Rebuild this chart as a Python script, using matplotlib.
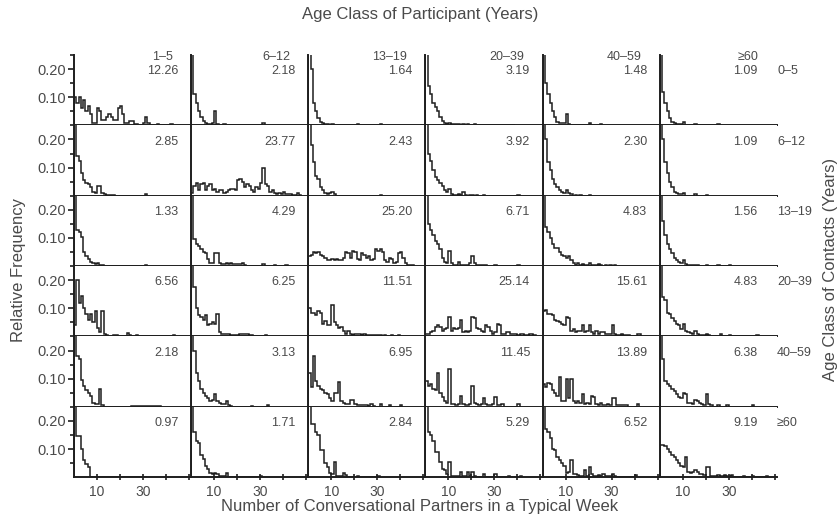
import matplotlib.pyplot as plt
from matplotlib.ticker import FixedLocator

plt.rcParams['font.family'] = ['Liberation Sans', 'DejaVu Sans']

participant_ages = ["1–5", "6–12", "13–19", "20–39", "40–59", "≥60"]
contact_ages = ["0–5", "6–12", "13–19", "20–39", "40–59", "≥60"]

# relative frequency of having 0, 1, 2, ... partners of the contact class
# one list per participant class (columns), one variable per contact class (rows)
freq_contacts_0_5 = [
    [0.10, 0.08, 0.10, 0.06, 0.09, 0.05, 0.07, 0.04, 0.01, 0.01, 0.06, 0.05, 0.02, 0.02, 0.03,
     0.04, 0.03, 0.02, 0.02, 0.06, 0.07, 0.04, 0.01, 0.01, 0.015, 0.015, 0.005, 0.005, 0.0, 0.0,
     0.01, 0.03, 0.01, 0.0, 0.0, 0.0, 0.005, 0.0, 0.0, 0.0, 0.0, 0.0, 0.005],
    [0.6, 0.11, 0.08, 0.05, 0.03, 0.015, 0.01, 0.005, 0.005, 0.01, 0.05, 0.005, 0.0, 0.0, 0.005,
     0.0, 0.0, 0.0, 0.0, 0.0, 0.0, 0.0, 0.0, 0.0, 0.0, 0.0, 0.0, 0.0, 0.0, 0.0, 0.0, 0.008],
    [0.6, 0.2, 0.08, 0.05, 0.025, 0.012, 0.008, 0.005, 0.004, 0.003, 0.004, 0.003, 0.0, 0.003,
     0.0, 0.0, 0.0, 0.0, 0.0, 0.0, 0.0, 0.006, 0.0, 0.0, 0.0, 0.0, 0.0, 0.0, 0.0, 0.0, 0.0, 0.006],
    [0.5, 0.14, 0.11, 0.08, 0.065, 0.05, 0.03, 0.015, 0.008, 0.006, 0.008, 0.004, 0.006, 0.004,
     0.006, 0.003, 0.004, 0.003, 0.005, 0.003, 0.003, 0.004, 0.003, 0.0, 0.003, 0.0, 0.0, 0.0,
     0.0, 0.0, 0.0, 0.0, 0.0, 0.0, 0.0, 0.0, 0.0, 0.0, 0.003],
    [0.5, 0.15, 0.11, 0.08, 0.05, 0.03, 0.012, 0.01, 0.01, 0.01, 0.04, 0.005, 0.0, 0.0, 0.0,
     0.0, 0.0, 0.0, 0.0, 0.0, 0.008, 0.0, 0.0, 0.0, 0.0, 0.005],
    [0.6, 0.12, 0.08, 0.05, 0.025, 0.012, 0.008, 0.005, 0.005, 0.005, 0.012, 0.0, 0.0, 0.0, 0.0,
     0.006, 0.0, 0.0, 0.0, 0.0, 0.0, 0.0, 0.0, 0.0, 0.0, 0.005],
]
freq_contacts_6_12 = [
    [0.45, 0.14, 0.125, 0.08, 0.055, 0.045, 0.04, 0.03, 0.015, 0.01, 0.035, 0.035, 0.01, 0.005,
     0.003, 0.003, 0.003, 0.004, 0.0, 0.0, 0.0, 0.0, 0.0, 0.0, 0.0, 0.0, 0.0, 0.0, 0.0, 0.0,
     0.0, 0.005],
    [0.01, 0.035, 0.045, 0.02, 0.04, 0.045, 0.02, 0.035, 0.04, 0.02, 0.025, 0.015, 0.02, 0.02,
     0.01, 0.015, 0.02, 0.025, 0.025, 0.02, 0.055, 0.06, 0.05, 0.03, 0.04, 0.035, 0.02, 0.015,
     0.03, 0.025, 0.045, 0.1, 0.04, 0.035, 0.015, 0.02, 0.01, 0.005, 0.008, 0.005, 0.015, 0.005,
     0.005, 0.005, 0.003, 0.003, 0.008, 0.003],
    [0.55, 0.18, 0.12, 0.07, 0.06, 0.03, 0.02, 0.01, 0.005, 0.01, 0.012, 0.005, 0.0, 0.0, 0.0,
     0.0, 0.0, 0.0, 0.0, 0.0, 0.0, 0.0, 0.0, 0.0, 0.0, 0.0, 0.0, 0.0, 0.0, 0.0, 0.0, 0.004],
    [0.45, 0.15, 0.125, 0.09, 0.065, 0.055, 0.045, 0.035, 0.02, 0.012, 0.025, 0.005, 0.004,
     0.003, 0.006, 0.003, 0.015, 0.003, 0.0, 0.004, 0.003, 0.0, 0.004, 0.0, 0.0, 0.004, 0.0,
     0.0, 0.0, 0.0, 0.0, 0.0, 0.0, 0.0, 0.0, 0.0, 0.0, 0.0, 0.0, 0.0, 0.004],
    [0.5, 0.2, 0.12, 0.09, 0.06, 0.04, 0.03, 0.02, 0.012, 0.01, 0.02, 0.01, 0.005, 0.0, 0.003,
     0.0, 0.003, 0.0, 0.0, 0.0, 0.003],
    [0.6, 0.2, 0.12, 0.08, 0.05, 0.03, 0.015, 0.01, 0.005, 0.005, 0.008, 0.0, 0.0, 0.0, 0.0,
     0.005, 0.0, 0.0, 0.0, 0.0, 0.004],
]
freq_contacts_13_19 = [
    [0.6, 0.13, 0.12, 0.105, 0.05, 0.035, 0.025, 0.015, 0.01, 0.008, 0.01, 0.005, 0.004, 0.0,
     0.0, 0.0, 0.0, 0.0, 0.0, 0.0, 0.0, 0.0, 0.0, 0.0, 0.0, 0.0, 0.0, 0.0, 0.0, 0.0, 0.0, 0.004],
    [0.45, 0.095, 0.08, 0.07, 0.06, 0.05, 0.045, 0.025, 0.01, 0.01, 0.045, 0.045, 0.01, 0.008,
     0.006, 0.01, 0.008, 0.01, 0.008, 0.006, 0.008, 0.006, 0.01, 0.005, 0.0, 0.0, 0.0, 0.0, 0.0,
     0.0, 0.0, 0.006, 0.0, 0.0, 0.0, 0.0, 0.005, 0.0, 0.0, 0.0, 0.0, 0.005],
    [0.035, 0.04, 0.05, 0.045, 0.05, 0.04, 0.035, 0.03, 0.02, 0.02, 0.025, 0.02, 0.025, 0.02,
     0.02, 0.03, 0.05, 0.045, 0.03, 0.055, 0.05, 0.025, 0.02, 0.045, 0.04, 0.03, 0.035, 0.02,
     0.025, 0.06, 0.055, 0.06, 0.05, 0.02, 0.015, 0.03, 0.025, 0.01, 0.015, 0.045, 0.05, 0.03,
     0.01, 0.005, 0.005, 0.003],
    [0.3, 0.15, 0.13, 0.11, 0.09, 0.08, 0.06, 0.03, 0.015, 0.01, 0.055, 0.01, 0.005, 0.005,
     0.015, 0.005, 0.003, 0.005, 0.003, 0.01, 0.035, 0.01, 0.003, 0.005, 0.003, 0.003, 0.005,
     0.0, 0.0, 0.0, 0.005, 0.0, 0.0, 0.0, 0.0, 0.0, 0.0, 0.0, 0.0, 0.0, 0.004],
    [0.35, 0.14, 0.12, 0.1, 0.08, 0.065, 0.065, 0.05, 0.04, 0.035, 0.03, 0.035, 0.02, 0.01,
     0.005, 0.01, 0.005, 0.008, 0.005, 0.005, 0.01, 0.004, 0.005, 0.004, 0.006, 0.004, 0.0,
     0.005, 0.0, 0.004, 0.0, 0.005],
    [0.55, 0.16, 0.11, 0.08, 0.06, 0.045, 0.03, 0.02, 0.015, 0.01, 0.02, 0.008, 0.005, 0.005,
     0.005, 0.005, 0.004, 0.0, 0.0, 0.0, 0.004, 0.0, 0.0, 0.0, 0.0, 0.004, 0.0, 0.0, 0.0, 0.0,
     0.004],
]
freq_contacts_20_39 = [
    [0.04, 0.2, 0.12, 0.145, 0.1, 0.08, 0.06, 0.08, 0.05, 0.09, 0.03, 0.015, 0.09, 0.01, 0.005,
     0.003, 0.003, 0.005, 0.005, 0.003, 0.003, 0.003, 0.003, 0.012, 0.004, 0.003, 0.003, 0.005,
     0.0, 0.0, 0.0, 0.0, 0.0, 0.0, 0.0, 0.0, 0.0, 0.0, 0.0, 0.0, 0.0, 0.0, 0.0, 0.005],
    [0.35, 0.175, 0.1, 0.075, 0.07, 0.06, 0.075, 0.04, 0.045, 0.05, 0.045, 0.08, 0.015, 0.01,
     0.008, 0.01, 0.008, 0.006, 0.005, 0.005, 0.006, 0.008, 0.008, 0.01, 0.008, 0.006, 0.005,
     0.0, 0.0, 0.0, 0.0, 0.0, 0.004],
    [0.1, 0.085, 0.085, 0.075, 0.09, 0.085, 0.045, 0.055, 0.04, 0.04, 0.11, 0.05, 0.04, 0.03,
     0.035, 0.02, 0.01, 0.02, 0.01, 0.005, 0.01, 0.008, 0.01, 0.005, 0.01, 0.005, 0.004, 0.005,
     0.004, 0.005, 0.004, 0.006, 0.0, 0.004, 0.0, 0.0, 0.005, 0.0, 0.0, 0.005],
    [0.01, 0.01, 0.015, 0.02, 0.035, 0.04, 0.035, 0.02, 0.025, 0.03, 0.07, 0.02, 0.03, 0.025,
     0.03, 0.06, 0.015, 0.02, 0.015, 0.02, 0.07, 0.065, 0.03, 0.025, 0.02, 0.015, 0.04, 0.035,
     0.02, 0.01, 0.015, 0.045, 0.04, 0.01, 0.01, 0.015, 0.015, 0.01, 0.01, 0.01, 0.005, 0.01,
     0.01, 0.005, 0.005, 0.01, 0.008, 0.005],
    [0.09, 0.095, 0.08, 0.08, 0.075, 0.06, 0.055, 0.05, 0.045, 0.04, 0.07, 0.065, 0.02, 0.025,
     0.015, 0.02, 0.02, 0.04, 0.015, 0.02, 0.04, 0.015, 0.01, 0.02, 0.01, 0.015, 0.015, 0.01,
     0.008, 0.008, 0.04, 0.01, 0.005, 0.005, 0.008, 0.004, 0.004, 0.004, 0.0, 0.0, 0.0, 0.01,
     0.01],
    [0.5, 0.14, 0.13, 0.085, 0.08, 0.065, 0.055, 0.045, 0.04, 0.025, 0.045, 0.02, 0.015, 0.012,
     0.01, 0.02, 0.01, 0.005, 0.005, 0.005, 0.01, 0.005, 0.0, 0.0, 0.0, 0.0, 0.008, 0.0, 0.0,
     0.0, 0.006, 0.0, 0.0, 0.0, 0.0, 0.0, 0.0, 0.0, 0.0, 0.0, 0.0, 0.0, 0.004],
]
freq_contacts_40_59 = [
    [0.5, 0.18, 0.17, 0.095, 0.075, 0.06, 0.05, 0.04, 0.015, 0.01, 0.01, 0.065, 0.005, 0.0,
     0.0, 0.0, 0.0, 0.0, 0.0, 0.0, 0.0, 0.0, 0.0, 0.0, 0.0, 0.002, 0.002, 0.002, 0.002, 0.002,
     0.002, 0.002, 0.002, 0.002, 0.002, 0.002, 0.002, 0.002],
    [0.4, 0.2, 0.12, 0.09, 0.065, 0.05, 0.04, 0.03, 0.02, 0.025, 0.045, 0.02, 0.015, 0.01, 0.01,
     0.02, 0.005, 0.003, 0.0, 0.0, 0.0, 0.0, 0.0, 0.0, 0.0, 0.0, 0.003, 0.0, 0.0, 0.0, 0.0, 0.0,
     0.0, 0.005],
    [0.12, 0.07, 0.18, 0.09, 0.075, 0.065, 0.06, 0.05, 0.045, 0.03, 0.02, 0.05, 0.05, 0.087,
     0.02, 0.015, 0.01, 0.01, 0.025, 0.025, 0.01, 0.005, 0.008, 0.005, 0.005, 0.005, 0.003,
     0.01, 0.003, 0.0, 0.0, 0.01, 0.0, 0.0, 0.0, 0.005, 0.0, 0.0, 0.0, 0.0, 0.005],
    [0.09, 0.075, 0.08, 0.065, 0.06, 0.12, 0.05, 0.035, 0.02, 0.015, 0.135, 0.01, 0.01, 0.008,
     0.01, 0.04, 0.01, 0.008, 0.008, 0.01, 0.075, 0.015, 0.01, 0.008, 0.01, 0.03, 0.01, 0.005,
     0.005, 0.01, 0.035, 0.005, 0.005, 0.01, 0.0, 0.0, 0.0, 0.0, 0.0, 0.0, 0.01],
    [0.08, 0.07, 0.085, 0.08, 0.06, 0.05, 0.04, 0.105, 0.02, 0.02, 0.1, 0.03, 0.1, 0.02, 0.015,
     0.02, 0.015, 0.045, 0.01, 0.015, 0.01, 0.04, 0.035, 0.01, 0.005, 0.015, 0.005, 0.005, 0.01,
     0.005, 0.03, 0.03, 0.005, 0.005, 0.008, 0.008, 0.005, 0.0, 0.0, 0.0, 0.0, 0.01],
    [0.45, 0.17, 0.09, 0.08, 0.075, 0.065, 0.055, 0.045, 0.035, 0.03, 0.05, 0.045, 0.015, 0.012,
     0.01, 0.025, 0.02, 0.012, 0.01, 0.005, 0.045, 0.01, 0.005, 0.0, 0.0, 0.006, 0.0, 0.0, 0.0,
     0.005, 0.0, 0.0, 0.0, 0.0, 0.0, 0.0, 0.0, 0.0, 0.0, 0.0, 0.005],
]
freq_contacts_60 = [
    [0.6, 0.145, 0.145, 0.1, 0.06, 0.045, 0.035, 0.0, 0.0, 0.0, 0.0, 0.0, 0.0, 0.0, 0.0, 0.0,
     0.0, 0.0, 0.0, 0.0, 0.0, 0.0, 0.0, 0.0, 0.0, 0.002, 0.002, 0.002, 0.002, 0.002, 0.002, 0.002],
    [0.45, 0.16, 0.13, 0.12, 0.08, 0.065, 0.04, 0.03, 0.015, 0.01, 0.015, 0.01, 0.004, 0.004,
     0.004, 0.015, 0.0, 0.0, 0.0, 0.0, 0.0, 0.0, 0.0, 0.0, 0.0, 0.0, 0.0, 0.0, 0.0, 0.0, 0.003],
    [0.5, 0.19, 0.19, 0.16, 0.15, 0.095, 0.095, 0.05, 0.035, 0.015, 0.01, 0.055, 0.005, 0.003,
     0.003, 0.015, 0.008, 0.0, 0.0, 0.0, 0.0, 0.003, 0.0, 0.0, 0.0, 0.0, 0.0, 0.0, 0.0, 0.0,
     0.003],
    [0.5, 0.16, 0.15, 0.13, 0.09, 0.09, 0.055, 0.03, 0.025, 0.01, 0.055, 0.005, 0.005, 0.003,
     0.004, 0.02, 0.005, 0.005, 0.02, 0.005, 0.02, 0.005, 0.0, 0.0, 0.0, 0.01, 0.0, 0.0, 0.0,
     0.0, 0.01, 0.0, 0.0, 0.0, 0.0, 0.0, 0.005, 0.0, 0.0, 0.0, 0.0, 0.005],
    [0.3, 0.17, 0.16, 0.14, 0.1, 0.095, 0.07, 0.06, 0.05, 0.04, 0.015, 0.02, 0.06, 0.01, 0.01,
     0.008, 0.005, 0.005, 0.025, 0.005, 0.035, 0.01, 0.005, 0.005, 0.008, 0.005, 0.01, 0.005,
     0.005, 0.005, 0.01, 0.005, 0.0, 0.0, 0.0, 0.0, 0.0, 0.0, 0.0, 0.0, 0.008],
    [0.115, 0.115, 0.11, 0.1, 0.09, 0.08, 0.07, 0.06, 0.05, 0.04, 0.035, 0.07, 0.02, 0.015, 0.02,
     0.025, 0.02, 0.01, 0.01, 0.008, 0.035, 0.035, 0.005, 0.005, 0.005, 0.008, 0.005, 0.005,
     0.008, 0.005, 0.005, 0.008, 0.0, 0.0, 0.0, 0.0, 0.005, 0.0, 0.0, 0.0, 0.005, 0.0, 0.0, 0.0,
     0.0, 0.0, 0.004],
]

mean_contacts_0_5 = ["12.26", "2.18", "1.64", "3.19", "1.48", "1.09"]
mean_contacts_6_12 = ["2.85", "23.77", "2.43", "3.92", "2.30", "1.09"]
mean_contacts_13_19 = ["1.33", "4.29", "25.20", "6.71", "4.83", "1.56"]
mean_contacts_20_39 = ["6.56", "6.25", "11.51", "25.14", "15.61", "4.83"]
mean_contacts_40_59 = ["2.18", "3.13", "6.95", "11.45", "13.89", "6.38"]
mean_contacts_60 = ["0.97", "1.71", "2.84", "5.29", "6.52", "9.19"]

freqs = [freq_contacts_0_5, freq_contacts_6_12, freq_contacts_13_19,
         freq_contacts_20_39, freq_contacts_40_59, freq_contacts_60]
means = [mean_contacts_0_5, mean_contacts_6_12, mean_contacts_13_19,
         mean_contacts_20_39, mean_contacts_40_59, mean_contacts_60]

line_col = "#1e1e1e"
text_col = "#4a4a4a"

fig, axes = plt.subplots(6, 6, figsize=(8.4, 5.29), dpi=100)
fig.subplots_adjust(left=0.088, right=0.925, top=0.896, bottom=0.098,
                    hspace=0, wspace=0)

for i in range(6):
    for j in range(6):
        ax = axes[i, j]
        vals = freqs[i][j]
        ax.stairs(vals, range(len(vals) + 1), color=line_col, lw=1.1)
        ax.set_xlim(0, 51)
        ax.set_ylim(0, 0.25)
        for side in ("top", "right"):
            ax.spines[side].set_visible(False)
        for side in ("left", "bottom"):
            ax.spines[side].set_color(line_col)
            ax.spines[side].set_linewidth(1.4)

        # mean number of partners
        xr = 0.836 if j == 5 else 0.892
        ax.text(xr, 0.77, means[i][j], transform=ax.transAxes, ha="right",
                va="center", fontsize=9, color=text_col)

        if j == 0:
            ax.yaxis.set_major_locator(FixedLocator([0.10, 0.20]))
            ax.yaxis.set_minor_locator(FixedLocator([0.05, 0.15, 0.25]))
            ax.set_yticklabels(["0.10", "0.20"])
            ax.tick_params(axis="y", which="major", length=4, width=1.2,
                           labelsize=10.5, colors=line_col, labelcolor=text_col, pad=2)
            ax.tick_params(axis="y", which="minor", length=3, width=1.2, colors=line_col)
        else:
            ax.set_yticks([])

        if i == 5:
            ax.xaxis.set_major_locator(FixedLocator([10, 20, 30, 40, 50]))
            ax.set_xticklabels(["10", "", "30", "", ""])
            ax.tick_params(axis="x", direction="inout", length=5, width=1.2,
                           labelsize=10, colors=line_col, labelcolor=text_col, pad=3)
        else:
            ax.set_xticks([])

        if i == 0:
            ax.text(0.846, 0.965, participant_ages[j], transform=ax.transAxes,
                    ha="right", va="center", fontsize=9, color=text_col)
        if j == 5:
            ax.text(1.0, 0.77, contact_ages[i], transform=ax.transAxes,
                    ha="left", va="center", fontsize=9, color=text_col)

fig.text(0.5, 0.972, "Age Class of Participant (Years)", ha="center", va="center",
         fontsize=12, color=text_col)
fig.text(0.5, 0.042, "Number of Conversational Partners in a Typical Week",
         ha="center", va="center", fontsize=12, color=text_col)
fig.text(0.022, 0.49, "Relative Frequency", rotation=90, ha="center", va="center",
         fontsize=12, color=text_col)
fig.text(0.989, 0.49, "Age Class of Contacts (Years)", rotation=90, ha="center",
         va="center", fontsize=12, color=text_col)

fig.savefig("out.png", dpi=100)
